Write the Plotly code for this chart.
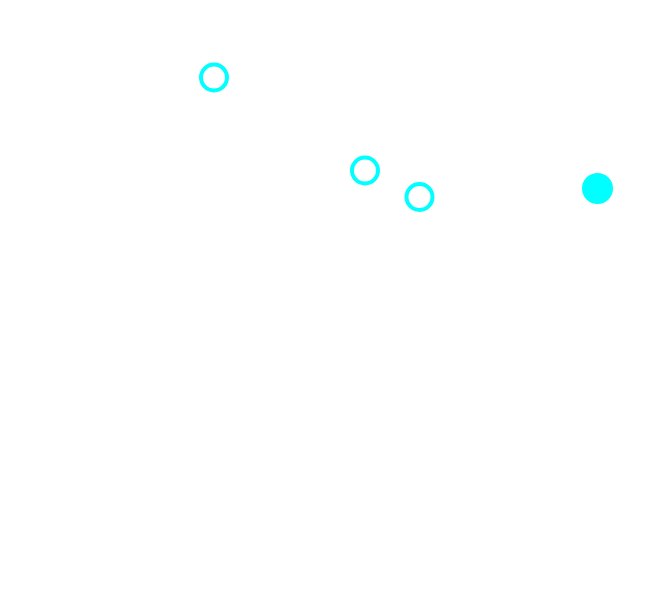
import plotly.graph_objects as go

# Data (positions in hidden-axis units)
open_x = [206, 357, 411.5]
open_y = [69.5, 162.5, 189]
filled_x = [589.5]
filled_y = [180.5]

fig = go.Figure()
fig.add_trace(go.Scatter(
    x=open_x, y=open_y, mode="markers",
    marker=dict(symbol="circle-open", size=26, color="#00FFFF",
                line=dict(width=4, color="#00FFFF")),
    showlegend=False, hoverinfo="skip"))
fig.add_trace(go.Scatter(
    x=filled_x, y=filled_y, mode="markers",
    marker=dict(symbol="circle", size=31, color="#00FFFF", line=dict(width=0)),
    showlegend=False, hoverinfo="skip"))

fig.update_layout(
    width=672, height=600,
    margin=dict(l=0, r=0, t=0, b=0),
    paper_bgcolor="white", plot_bgcolor="white",
    xaxis=dict(range=[0, 672], visible=False),
    yaxis=dict(range=[600, 0], visible=False),
)
fig.write_html("out.html")
